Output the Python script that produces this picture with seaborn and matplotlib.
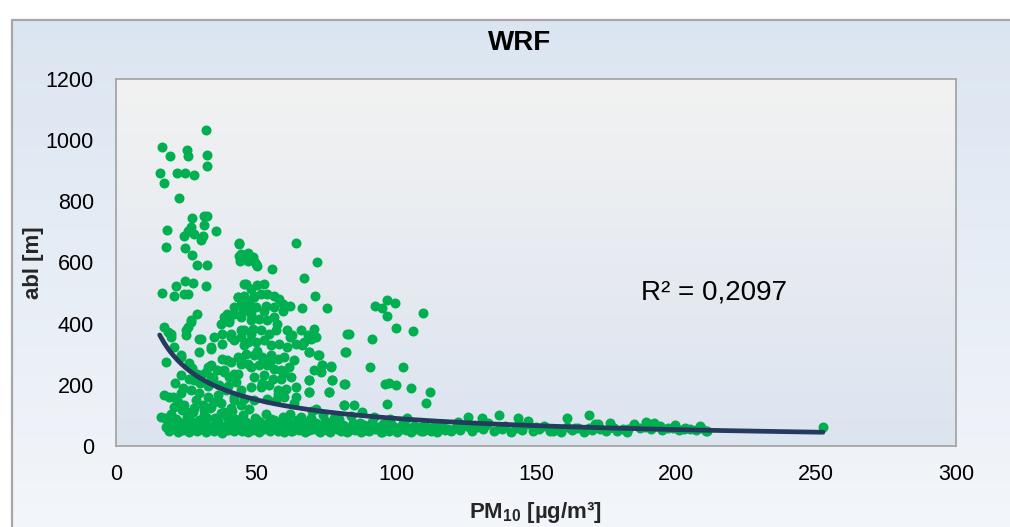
import numpy as np
import matplotlib
matplotlib.use("Agg")
import matplotlib.pyplot as plt
import seaborn as sns
from matplotlib.colors import LinearSegmentedColormap

# ---------------- data ----------------
# sparse high points (x < 50)
high_x = [32.1, 16.4, 19.3, 25.2, 25.6, 32.5, 32.5, 15.6, 21.8, 24.7, 27.9, 17.0, 22.4,
          27.0, 31.3, 32.5, 31.5, 18.2, 26.8, 35.7, 25.6, 24.4, 27.9, 30.9, 30.3, 17.8,
          24.7, 27.0, 28.9, 32.5, 43.8, 44.0, 44.2, 47.0, 24.6, 27.4, 21.4, 32.1, 16.3,
          20.8, 24.2, 25.6]
high_y = [1034, 978, 949, 968, 947, 950, 916, 894, 894, 894, 887, 859, 811,
          744, 753, 753, 724, 706, 717, 702, 704, 688, 693, 688, 675, 652,
          648, 623, 593, 593, 664, 620, 606, 606, 538, 534, 523, 523, 500,
          490, 498, 498]

# sparse points to the right of the main cluster
mid_x = [64.2, 71.7, 55.7, 67.2, 71.0, 75.5, 66.6, 62.2, 92.4, 95.1, 96.9, 99.5, 96.9,
         109.6, 100.0, 106.2, 83.2, 91.6, 81.8, 90.7, 102.5, 81.8, 96.0, 97.5, 100.1,
         105.2, 112.0, 110.8, 81.5, 85.0, 96.9, 69.0, 69.0, 75.9, 77.3, 76.7, 73.7,
         72.2, 69.0, 47.6, 48.8, 50.0, 50.5, 44.6, 45.2]
mid_y = [664, 601, 579, 550, 492, 451, 451, 457, 457, 452, 479, 468, 425,
         435, 387, 376, 367, 351, 307, 259, 259, 204, 202, 206, 199,
         191, 175, 141, 134, 134, 137, 215, 177, 177, 215, 262, 264,
         297, 307, 612, 617, 595, 590, 628, 622]

# dense cluster around PM10 = 45-80
core_x = [46.4, 48.2, 50.5, 52.9, 45.8, 49.4, 51.7, 54.1, 56.5, 58.3, 47.0, 50.0, 53.5,
          56.5, 59.5, 44.6, 48.2, 51.1, 54.1, 56.5, 59.5, 45.8, 48.8, 51.7, 54.7, 57.1,
          61.2, 63.0, 66.0, 68.4, 70.8, 71.4, 47.0, 50.0, 52.9, 55.3, 58.3, 61.2, 64.2,
          67.2, 69.6, 46.4, 49.4, 52.3, 55.3, 57.7, 60.1, 63.6, 69.0, 72.5, 44.6, 48.2,
          51.1, 54.1, 56.5, 58.9, 61.8, 73.7, 76.7, 70.8, 49.4, 52.9, 55.9, 58.9, 62.4,
          69.0, 73.1, 77.3, 48.2, 51.7, 54.7, 57.7, 60.7, 64.2, 69.0, 76.1, 45.8, 49.4,
          54.1, 57.1, 60.1, 64.2, 71.4, 81.5, 82.6, 82.1, 81.5,
          47.5, 53.0, 57.5, 62.0, 50.5, 55.0, 60.0, 66.5, 52.0, 58.0, 63.5]
core_y = [530, 514, 525, 530, 492, 492, 497, 497, 492, 481, 454, 454, 459,
          454, 465, 421, 411, 416, 411, 421, 443, 378, 383, 378, 367, 378,
          378, 362, 378, 362, 383, 356, 340, 340, 345, 329, 334, 324, 334,
          340, 351, 302, 296, 291, 296, 286, 291, 280, 307, 296, 269, 258,
          264, 264, 253, 247, 258, 264, 258, 247, 226, 231, 220, 220, 226,
          215, 242, 215, 193, 193, 199, 182, 188, 193, 177, 177, 155, 150,
          155, 150, 161, 161, 122, 133, 367, 307, 204,
          470, 440, 400, 355, 310, 275, 240, 330, 205, 170, 140]

# left cluster (PM10 = 16-45)
left_x = [17.2, 18.4, 19.6, 29.1, 26.8, 25.6, 25.0, 30.3, 37.5, 40.4, 39.8, 42.2, 44.6,
          43.4, 45.8, 35.1, 38.0, 41.0, 44.6, 29.7, 33.9, 20.8, 23.2, 17.8, 38.0, 41.0,
          44.6, 33.9, 32.1, 30.3, 23.2, 26.2, 27.9, 38.6, 40.4, 43.4, 17.2, 20.2, 23.2,
          26.8, 29.7, 32.7, 36.3, 39.2, 42.2, 44.6, 34.5, 36.9, 33.9, 37.5, 41.0, 44.6,
          20.8, 24.4, 27.9, 30.9, 16.1, 44.0, 47.0, 49.4, 45.8, 43.4, 45.8, 49.4, 42.2,
          45.2, 48.2, 38.6, 40.4, 41.0, 44.6, 48.2, 38.0, 42.2, 45.8, 33.9, 39.8, 43.4,
          47.0, 38.6, 42.2, 32.7, 33.9, 29.1, 25.0, 26.8, 19.6, 23.2, 29.7,
          22.0, 25.5, 28.5, 31.5, 35.0, 38.5, 42.0, 21.0, 24.0, 27.0, 30.0, 36.0, 40.0,
          43.0, 19.0, 26.0, 33.0]
left_y = [389, 373, 356, 432, 411, 389, 362, 351, 400, 411, 433, 454, 465,
          487, 487, 356, 367, 356, 356, 308, 318, 324, 297, 275, 286, 275,
          280, 264, 242, 231, 231, 220, 215, 242, 226, 237, 166, 161, 172,
          182, 172, 161, 166, 182, 161, 182, 221, 199, 128, 139, 123, 134,
          128, 134, 123, 134, 96, 661, 630, 606, 530, 487, 476, 487, 432,
          443, 432, 421, 405, 367, 378, 367, 334, 345, 329, 324, 280, 291,
          269, 248, 237, 258, 226, 237, 378, 405, 367, 291, 351,
          145, 112, 150, 118, 145, 110, 150, 205, 190, 255, 205, 250, 195,
          210, 160, 270, 195]

# low band (PM10 = 17-120)
band_x = [18, 19, 20, 21, 22, 23, 24, 25, 26, 27, 28, 29, 30, 31, 32, 33, 34, 35, 36, 37,
          38, 39, 40, 41, 42, 43, 44, 45, 46, 47, 48, 49, 50, 51, 52, 53, 54, 55, 56, 57,
          58, 59, 60,
          17.5, 19.5, 21.5, 23.5, 25.5, 27.5, 29.5, 31.5, 33.5, 35.5, 37.5, 39.5, 41.5,
          43.5, 45.5, 47.5, 49.5, 51.5, 53.5, 55.5, 57.5, 59.5,
          18.5, 20.5, 22.5, 24.5, 26.5, 28.5, 30.5, 32.5, 34.5, 36.5, 38.5, 40.5, 42.5,
          44.5, 46.5, 48.5, 50.5, 52.5, 54.5, 56.5, 58.5,
          60.5, 61.5, 62.5, 63.5, 64.5, 65.5, 66.5, 67.5, 68.5, 69.5, 70.5, 71.5, 72.5,
          73.5, 74.5, 75.5, 76.5, 77.5, 78.5, 79.5, 80.5, 81.5, 82.5, 83.5, 84.5, 85.5,
          86.5, 87.5, 88.5, 89.5, 90.5, 91.5, 92.5, 93.5, 94.5, 95.5, 96.5, 97.5, 98.5,
          99.5, 100.5, 101.5, 102.5, 103.5, 104.5, 105.5, 106.5, 107.5, 108.5, 109.5,
          110.5, 111.5, 112.5, 113.5, 114.5, 115.5, 116.5, 117.5, 118.5, 119.5,
          61, 63, 65, 67, 69, 71, 73, 75, 77, 79, 81, 83, 85, 87, 89, 91, 93, 95, 97, 99,
          101, 103, 105, 107, 109, 111, 113, 115,
          62, 66, 70, 74, 78, 84, 88, 92, 98, 104]
band_y = [62, 48, 70, 55, 45, 66, 52, 74, 47, 60, 68, 50, 57, 72, 46, 63, 55, 49, 70, 58,
          44, 66, 53, 61, 48, 75, 57, 50, 64, 46, 59, 71, 52, 45, 67, 55, 62, 48, 58, 73,
          50, 64, 47,
          92, 105, 88, 118, 96, 110, 84, 102, 125, 90, 108, 95, 115,
          86, 100, 122, 92, 80, 104, 88, 76, 95,
          80, 58, 78, 62, 84, 52, 76, 90, 66, 82, 56, 78, 88,
          68, 80, 52, 84, 60, 78, 86, 65,
          55, 78, 48, 66, 85, 52, 70, 46, 62, 90, 57, 74, 49,
          68, 82, 53, 45, 71, 60, 88, 50, 66, 47, 58, 76, 52,
          64, 45, 70, 56, 49, 80, 54, 62, 46, 72, 58, 50, 68,
          55, 47, 63, 75, 52, 58, 45, 66, 54, 61, 48,
          70, 56, 50, 64, 47, 59, 73, 52, 57, 49,
          66, 50, 60, 80, 52, 68, 46, 62, 78, 55, 70, 48, 60, 75, 52, 66, 58, 47, 70, 62,
          52, 68, 56, 62, 50, 60, 55, 64,
          105, 95, 115, 100, 92, 98, 110, 94, 88, 92]

# tail (PM10 > 120)
tail_x = [121, 123, 125, 127, 129, 131, 133, 135, 137, 139, 141, 143, 145, 147, 149, 151,
          153, 155, 157, 159, 161, 163, 165, 167, 169, 171, 173, 175, 177, 179, 181, 183,
          185, 187, 189, 191, 193, 195, 197, 199, 201, 203, 205, 207, 209, 211,
          125.7, 130.8, 136.7, 143.5, 147.0, 160.9, 168.9, 176.6, 182.5, 184.9, 189.3,
          192.0, 194.4, 199.8, 203.1, 208.5, 210.8, 252.5, 172.0,
          122, 126, 132, 138, 144, 150, 156, 164, 170, 178]
tail_y = [60, 52, 70, 48, 62, 55, 74, 50, 58, 66, 47, 60, 53, 72, 48, 57,
          64, 50, 55, 46, 62, 52, 58, 47, 60, 72, 56, 50, 63, 48, 57, 54,
          70, 58, 62, 55, 66, 53, 58, 60, 52, 57, 55, 52, 58, 50,
          96, 92, 101, 92, 82, 92, 101, 74, 47, 71, 79,
          76, 66, 68, 58, 65, 50, 63, 72,
          80, 62, 68, 54, 72, 62, 48, 60, 52, 58]

pm10 = high_x + mid_x + core_x + left_x + band_x + tail_x
abl = high_y + mid_y + core_y + left_y + band_y + tail_y

# power trendline y = a * x^b (coefficients)
trend_a = 2850.0
trend_b = -0.75
r2_text = "R\u00b2 = 0,2097"

title = "WRF"
xlabel = "PM$_{10}$ [\u00b5g/m\u00b3]"
ylabel = "abl [m]"
xticks = [0, 50, 100, 150, 200, 250, 300]
yticks = [0, 200, 400, 600, 800, 1000, 1200]

# ---------------- drawing ----------------
sns.set_style("white")
plt.rcParams["font.family"] = ["Liberation Sans", "DejaVu Sans"]
plt.rcParams["mathtext.fontset"] = "custom"
plt.rcParams["mathtext.rm"] = "Liberation Sans:bold"
plt.rcParams["mathtext.it"] = "Liberation Sans:bold"
plt.rcParams["mathtext.bf"] = "Liberation Sans:bold"

W, H = 1010, 527
fig = plt.figure(figsize=(W / 100, H / 100), dpi=100)
fig.patch.set_facecolor("white")

# chart-area background gradient
bg = fig.add_axes([0, 0, 1, 1], zorder=-10)
bg.set_xlim(0, 1)
bg.set_ylim(0, 1)
bg.axis("off")
cmap_bg = LinearSegmentedColormap.from_list("bg", ["#f3f6fa", "#dbe5f1"])
grad = np.linspace(0, 1, 256).reshape(-1, 1)
x0 = 12 / W
y1 = 1 - 20 / H
bg.imshow(grad, extent=[x0, 1, 0, y1], aspect="auto", cmap=cmap_bg, origin="lower")
bg.plot([x0, x0, 1], [0, y1, y1], color="#a6a6a6", lw=1.6)

ax = fig.add_axes([116 / W, 1 - 446 / H, (956 - 116) / W, (446 - 79) / H])
cmap_pa = LinearSegmentedColormap.from_list("pa", ["#dce4f0", "#f2f2f2"])
ax.imshow(grad, extent=[0, 300, 0, 1200], aspect="auto", cmap=cmap_pa,
          origin="lower", zorder=0)

sns.scatterplot(x=pm10, y=abl, color="#00b050", s=52, linewidth=0, ax=ax, zorder=3)

xf = np.linspace(min(pm10), max(pm10), 300)
yf = trend_a * xf ** trend_b
sns.lineplot(x=xf, y=yf, color="#243b5e", lw=3.4, ax=ax, zorder=4)

ax.set_xlim(0, 300)
ax.set_ylim(0, 1200)
ax.set_xticks(xticks)
ax.set_yticks(yticks)
ax.tick_params(axis="both", direction="out", length=6, width=1, color="#8c8c8c",
               labelsize=15.5, labelcolor="#000000")
ax.tick_params(axis="y", pad=10)
ax.tick_params(axis="x", pad=7)
for s in ax.spines.values():
    s.set_color("#a0a0a0")
    s.set_linewidth(1.2)
    s.set_visible(True)

ax.set_xlabel(xlabel, fontsize=16, fontweight="bold", labelpad=11)
ax.set_ylabel(ylabel, fontsize=16, fontweight="bold", labelpad=1)
fig.text(520 / W, 1 - 43 / H, title, ha="center", va="center", fontsize=20,
         fontweight="bold", color="#000000")
ax.text(187.5, 502, r2_text, ha="left", va="center", fontsize=20, color="#000000")

fig.savefig("out.png", dpi=100)
